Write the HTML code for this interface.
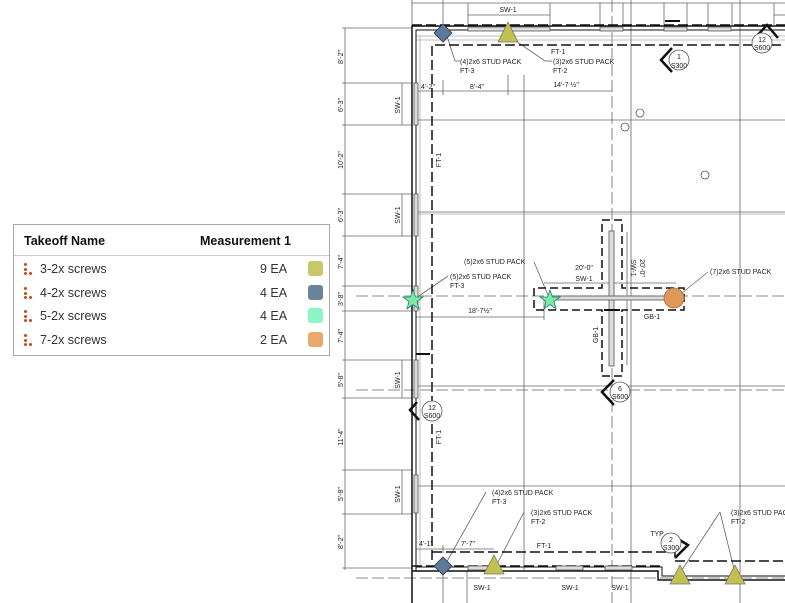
<!DOCTYPE html>
<html><head><meta charset="utf-8"><style>
html,body{margin:0;padding:0;background:#fff;width:785px;height:603px;overflow:hidden}
svg{position:absolute;left:0;top:0}
svg text{font-family:"Liberation Sans",sans-serif;fill:#222}
.leg{position:absolute;left:13px;top:224px;width:315px;height:130px;border:1px solid #aaa;background:#fff;font-family:"Liberation Sans",sans-serif;}
.hd{height:30px;border-bottom:1px solid #ccc;font-size:12.5px;font-weight:bold;color:#111;position:relative}
.hd span{position:absolute;top:9px}
.row{position:relative;height:23.5px;font-size:12.5px;color:#333}
.row span{position:absolute;top:4px}
.dots{position:absolute;left:10px;top:5px;width:10px;height:12px}
.dots i{position:absolute;width:3px;height:3px;border-radius:50%;background:#c8441a}
.sw{position:absolute;left:294px;top:3px;width:15px;height:15px;border-radius:3px}
</style></head><body>
<svg width="785" height="603" viewBox="0 0 785 603">
<g stroke="#666" stroke-width="0.8" fill="none">
<line x1="524" y1="75" x2="524" y2="570"/>
<line x1="631" y1="0" x2="631" y2="603"/>
<line x1="740" y1="0" x2="740" y2="603"/>
<line x1="612" y1="0" x2="612" y2="603" stroke-dasharray="12,4"/>
<line x1="416" y1="120" x2="785" y2="120"/>
<line x1="416" y1="212" x2="785" y2="212"/>
<line x1="416" y1="214" x2="785" y2="214" stroke="#aaa"/>
<line x1="356" y1="296" x2="785" y2="296" stroke-dasharray="12,4"/>
<line x1="416" y1="386" x2="785" y2="386"/>
<line x1="356" y1="390" x2="785" y2="390" stroke-dasharray="12,4"/>
<line x1="416" y1="486" x2="785" y2="486"/>
<line x1="356" y1="578" x2="785" y2="578" stroke-dasharray="12,4"/>
<line x1="412" y1="0" x2="412" y2="26"/>
<line x1="443" y1="0" x2="443" y2="26"/>
<line x1="443" y1="571" x2="443" y2="603"/>
<line x1="467" y1="571" x2="467" y2="603"/>
<line x1="416" y1="36" x2="785" y2="36" stroke="#aaa"/>
<line x1="416" y1="40" x2="785" y2="40" stroke="#aaa"/>
<line x1="420" y1="36" x2="420" y2="565" stroke="#aaa"/>
<line x1="412" y1="3" x2="785" y2="3"/>
<line x1="468" y1="15" x2="550" y2="15"/>
<line x1="468" y1="3" x2="468" y2="25"/><line x1="550" y1="3" x2="550" y2="25"/>
<line x1="600" y1="3" x2="600" y2="25"/><line x1="623" y1="3" x2="623" y2="25"/>
<line x1="664" y1="3" x2="664" y2="25"/><line x1="687" y1="3" x2="687" y2="25"/>
<line x1="708" y1="3" x2="708" y2="25"/><line x1="732" y1="3" x2="732" y2="25"/>
<line x1="774" y1="3" x2="774" y2="25"/>
<line x1="774" y1="15" x2="785" y2="15"/>
<line x1="345" y1="28" x2="345" y2="570"/>
<line x1="342" y1="28" x2="412" y2="28"/><line x1="342" y1="83" x2="412" y2="83"/>
<line x1="342" y1="125" x2="412" y2="125"/><line x1="342" y1="194" x2="412" y2="194"/>
<line x1="342" y1="236" x2="412" y2="236"/><line x1="342" y1="286" x2="412" y2="286"/>
<line x1="342" y1="311" x2="412" y2="311"/><line x1="342" y1="360" x2="412" y2="360"/>
<line x1="342" y1="398" x2="412" y2="398"/><line x1="342" y1="470" x2="412" y2="470"/>
<line x1="342" y1="514" x2="412" y2="514"/><line x1="342" y1="568" x2="412" y2="568"/>
<line x1="402" y1="83" x2="402" y2="125"/><line x1="402" y1="194" x2="402" y2="236"/>
<line x1="402" y1="360" x2="402" y2="398"/><line x1="402" y1="470" x2="402" y2="514"/>
<line x1="416" y1="91" x2="612" y2="91"/>
<line x1="443" y1="80" x2="443" y2="95"/><line x1="508" y1="75" x2="508" y2="95"/>
<line x1="416" y1="317" x2="544" y2="317"/><line x1="544" y1="300" x2="544" y2="320"/>
<line x1="544" y1="283" x2="676" y2="283"/>
<line x1="416" y1="549" x2="494" y2="549"/><line x1="443" y1="545" x2="443" y2="553"/>
<line x1="627" y1="232" x2="627" y2="365"/>
<line x1="447" y1="36" x2="455" y2="61"/><line x1="455" y1="61" x2="460" y2="61"/>
<line x1="510" y1="37" x2="545" y2="61"/><line x1="545" y1="61" x2="552" y2="61"/>
<line x1="416" y1="298" x2="448" y2="276"/>
<line x1="550" y1="300" x2="534" y2="262"/>
<line x1="677" y1="297" x2="708" y2="272"/>
<line x1="445" y1="565" x2="486" y2="492"/>
<line x1="495" y1="568" x2="524" y2="512"/>
<line x1="680" y1="573" x2="720" y2="512"/><line x1="735" y1="573" x2="720" y2="512"/>
</g>
<g stroke="#111" fill="none">
<path d="M412,603 V26 H785" stroke-width="1.5"/>
<path d="M416,571 V30 H785" stroke-width="1"/>
<path d="M412,571 H658 V580 H785" stroke-width="1.5"/>
<path d="M416,567 H662 V576 H785" stroke-width="1"/>
<path d="M412,25 H785" stroke-width="1.5" stroke-dasharray="10,4"/>
<path d="M432,560 V45 H785" stroke-width="1.5" stroke-dasharray="10,4"/>
<path d="M432,552 H675 V561 H785" stroke-width="1.5" stroke-dasharray="10,4"/>
<path d="M412,566 H660" stroke-width="1.5" stroke-dasharray="10,4"/>
<path d="M602,220 H622 V288 H684 V310 H622 V376 H602 V310 H534 V288 H602 Z" stroke-width="1.5" stroke-dasharray="8,4"/>
<rect x="609" y="231" width="5" height="135" stroke="#555" stroke-width="0.8" fill="#ddd"/>
<rect x="552" y="296" width="125" height="4" stroke="#555" stroke-width="0.8" fill="#ddd"/>
<line x1="604" y1="310" x2="620" y2="310" stroke-width="2"/>
<g stroke="#555" stroke-width="0.8" fill="#ddd">
<rect x="468" y="27" width="82" height="4"/><rect x="600" y="27" width="23" height="4"/>
<rect x="664" y="27" width="23" height="4"/><rect x="708" y="27" width="23" height="4"/>
<rect x="414" y="83" width="4" height="42"/><rect x="414" y="194" width="4" height="42"/>
<rect x="414" y="286" width="4" height="25"/><rect x="414" y="360" width="4" height="38"/>
<rect x="414" y="475" width="4" height="38"/>
<rect x="468" y="566" width="26" height="4"/><rect x="556" y="566" width="27" height="4"/>
<rect x="605" y="566" width="27" height="4"/>
</g>
<line x1="416" y1="354" x2="430" y2="354" stroke-width="2"/>
<line x1="665" y1="21" x2="680" y2="21" stroke-width="2"/>
<path d="M672,48 L661,60 L672,72" stroke-width="2.5"/>
<path d="M755,38 L767,25 L778,38" stroke-width="2.5"/>
<path d="M417,402 L410,410 L419,420" stroke-width="2.5"/>
<path d="M614,380 L602,392 L614,405" stroke-width="2.5"/>
<path d="M673,536 L688,545 L675,558" stroke-width="2.5"/>
</g>
<g stroke="#555" fill="#fff" stroke-width="0.8">
<circle cx="679" cy="60" r="10"/><circle cx="762" cy="43" r="10"/>
<circle cx="432" cy="411" r="10"/><circle cx="620" cy="392" r="10"/><circle cx="671" cy="543" r="10"/>
<circle cx="640" cy="113" r="4"/><circle cx="625" cy="127" r="4"/><circle cx="705" cy="175" r="4"/>
</g>
<g font-size="7" text-anchor="middle">
<text x="679" y="59">1</text><text x="679" y="68">S300</text>
<text x="762" y="42">12</text><text x="762" y="50">S600</text>
<text x="432" y="410">12</text><text x="432" y="418">S600</text>
<text x="620" y="391">6</text><text x="620" y="399">S600</text>
<text x="671" y="542">2</text><text x="671" y="550">S300</text>
<text x="508" y="12">SW-1</text>
<text x="477" y="89">8'-4"</text><text x="428" y="89">4'-2"</text>
<text x="566" y="87">14'-7 ½"</text>
<text x="480" y="313">18'-7½"</text>
<text x="584" y="270">20'-0"</text><text x="584" y="281">SW-1</text>
<text x="652" y="319">GB-1</text>
<text x="426" y="546">4'-1"</text><text x="468" y="546">7'-7"</text>
<text x="544" y="548">FT-1</text>
<text x="657" y="536">TYP</text>
<text x="482" y="590">SW-1</text><text x="570" y="590">SW-1</text><text x="620" y="590">SW-1</text>
</g>
<g font-size="7">
<text x="460" y="64">(4)2x6 STUD PACK</text><text x="460" y="73">FT-3</text>
<text x="551" y="54">FT-1</text>
<text x="553" y="64">(3)2x6 STUD PACK</text><text x="553" y="73">FT-2</text>
<text x="450" y="279">(5)2x6 STUD PACK</text><text x="450" y="288">FT-3</text>
<text x="464" y="264">(5)2x6 STUD PACK</text>
<text x="710" y="274">(7)2x6 STUD PACK</text>
<text x="492" y="495">(4)2x6 STUD PACK</text><text x="492" y="504">FT-3</text>
<text x="531" y="515">(3)2x6 STUD PACK</text><text x="531" y="524">FT-2</text>
<text x="731" y="515">(3)2x6 STUD PACK</text><text x="731" y="524">FT-2</text>
</g>
<g font-size="7" text-anchor="middle">
<text transform="translate(343,57) rotate(-90)">8'-2"</text>
<text transform="translate(343,105) rotate(-90)">6'-3"</text>
<text transform="translate(343,160) rotate(-90)">10'-2"</text>
<text transform="translate(343,215) rotate(-90)">6'-3"</text>
<text transform="translate(343,262) rotate(-90)">7'-4"</text>
<text transform="translate(343,299) rotate(-90)">3'-8"</text>
<text transform="translate(343,336) rotate(-90)">7'-4"</text>
<text transform="translate(343,380) rotate(-90)">5'-8"</text>
<text transform="translate(343,437) rotate(-90)">11'-4"</text>
<text transform="translate(343,494) rotate(-90)">5'-8"</text>
<text transform="translate(343,542) rotate(-90)">8'-2"</text>
<text transform="translate(400,105) rotate(-90)">SW-1</text>
<text transform="translate(400,215) rotate(-90)">SW-1</text>
<text transform="translate(400,380) rotate(-90)">SW-1</text>
<text transform="translate(400,494) rotate(-90)">SW-1</text>
<text transform="translate(441,160) rotate(-90)">FT-1</text>
<text transform="translate(441,437) rotate(-90)">FT-1</text>
<text transform="translate(598,335) rotate(-90)">GB-1</text>
<text transform="translate(631,268) rotate(90)">SW-1</text>
<text transform="translate(640,268) rotate(90)">20'-0"</text>
</g>
<g stroke="#334" stroke-width="0.8">
<path d="M443,24 L452,33 L443,42 L434,33 Z" fill="#5b7b9c"/>
<path d="M443,557 L452,566 L443,575 L434,566 Z" fill="#5b7b9c"/>
</g>
<g stroke="#776" stroke-width="0.8" fill="#c2c050">
<path d="M508,22 L518,42 L498,42 Z"/>
<path d="M494,555 L504,574 L484,574 Z"/>
<path d="M680,565 L690,584 L670,584 Z"/>
<path d="M735,565 L745,584 L725,584 Z"/>
</g>
<g stroke="#286" stroke-width="0.8" fill="#7fe8a8">
<path d="M413,290 L415.5,297 L423,297 L417,301.5 L419,309 L413,304.5 L407,309 L409,301.5 L403,297 L410.5,297 Z"/>
<path d="M550,290 L552.5,297 L560,297 L554,301.5 L556,309 L550,304.5 L544,309 L546,301.5 L540,297 L547.5,297 Z"/>
</g>
<circle cx="674" cy="298" r="10" fill="#e09a58" stroke="#a65" stroke-width="0.8"/>
</svg>
<div class="leg">
<div class="hd"><span style="left:10px">Takeoff Name</span><span style="left:186px">Measurement 1</span></div>
<div style="height:2px"></div>
<div class="row"><div class="dots"><i style="left:0;top:0"></i><i style="left:0;top:5px"></i><i style="left:0;top:9px"></i><i style="left:5px;top:9px"></i></div><span style="left:26px">3-2x screws</span><span style="left:246px">9 EA</span><div class="sw" style="background:#c8c76a"></div></div>
<div class="row"><div class="dots"><i style="left:0;top:0"></i><i style="left:0;top:5px"></i><i style="left:0;top:9px"></i><i style="left:5px;top:9px"></i></div><span style="left:26px">4-2x screws</span><span style="left:246px">4 EA</span><div class="sw" style="background:#6b849e"></div></div>
<div class="row"><div class="dots"><i style="left:0;top:0"></i><i style="left:0;top:5px"></i><i style="left:0;top:9px"></i><i style="left:5px;top:9px"></i></div><span style="left:26px">5-2x screws</span><span style="left:246px">4 EA</span><div class="sw" style="background:#8cf5c4"></div></div>
<div class="row"><div class="dots"><i style="left:0;top:0"></i><i style="left:0;top:5px"></i><i style="left:0;top:9px"></i><i style="left:5px;top:9px"></i></div><span style="left:26px">7-2x screws</span><span style="left:246px">2 EA</span><div class="sw" style="background:#e8aa6c"></div></div>
</div>
</body></html>
